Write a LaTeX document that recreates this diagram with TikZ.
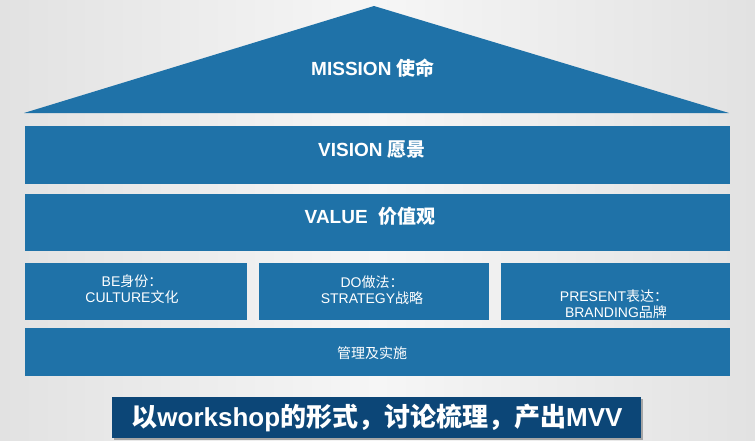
\documentclass[tikz,border=0pt]{standalone}
\usepackage{fontspec}
\setmainfont{Liberation Sans}
\newfontfamily\cjk{Noto Sans CJK SC}
\usetikzlibrary{shadings}
\definecolor{boxblue}{HTML}{1F72A8}
\definecolor{bannerblue}{HTML}{0C4677}
\definecolor{bgedge}{HTML}{E2E2E2}
\definecolor{bgmid}{HTML}{F6F6F6}
\begin{document}
\begin{tikzpicture}[x=1pt,y=-1pt,
  blk/.style={fill=boxblue,draw=none,inner sep=0pt,text=white,align=center},
  bigtxt/.style={font=\fontsize{19}{22}\selectfont\bfseries},
  smalltxt/.style={font=\fontsize{14}{16.5}\selectfont}]
\useasboundingbox (0,0) rectangle (755,440);
\shade[left color=bgedge,right color=bgedge,middle color=bgmid] (0,0) rectangle (755,440);
% roof
\fill[boxblue] (24,113) -- (374,6) -- (729,113) -- cycle;
\node[text=white,bigtxt] (mission) at (373,68) {MISSION {\cjk 使命}};
% vision / value
\node[blk,minimum width=705,minimum height=58] (vision) at (377.5,155) {};
\node[text=white,bigtxt] (visiont) at (372,150) {VISION {\cjk 愿景}};
\node[blk,minimum width=705,minimum height=57] (value) at (377.5,222.5) {};
\node[text=white,bigtxt] (valuet) at (370,216) {VALUE\ \ {\cjk 价值观}};
% three pillars
\node[blk,minimum width=222,minimum height=57] (be) at (136,291.5) {};
\node[text=white,smalltxt,align=center] (bet) at (132,289) {BE{\cjk 身份：}\\CULTURE{\cjk 文化}};
\node[blk,minimum width=230,minimum height=57] (do) at (374,291.5) {};
\node[text=white,smalltxt,align=center] (dot) at (372,290) {DO{\cjk 做法：}\\STRATEGY{\cjk 战略}};
\node[blk,minimum width=229,minimum height=57] (present) at (615.5,291.5) {};
\node[text=white,smalltxt,align=center] (presentt) at (614,304) {PRESENT{\cjk 表达：}\\\ BRANDING{\cjk 品牌}};
% base
\node[blk,minimum width=705,minimum height=48] (base) at (377.5,352) {};
\node[text=white,smalltxt] (baset) at (372,353) {\cjk 管理及实施};
% banner
\fill[black!35] (114,399) rectangle (643,440);
\node[fill=bannerblue,inner sep=0pt,minimum width=529,minimum height=41] (banner) at (376.5,417.5) {};
\node[text=white,font=\fontsize{26}{30}\selectfont\bfseries] (bannert) at (377,418) {{\cjk 以}workshop{\cjk 的形式，讨论梳理，产出}MVV};
\end{tikzpicture}
\end{document}
